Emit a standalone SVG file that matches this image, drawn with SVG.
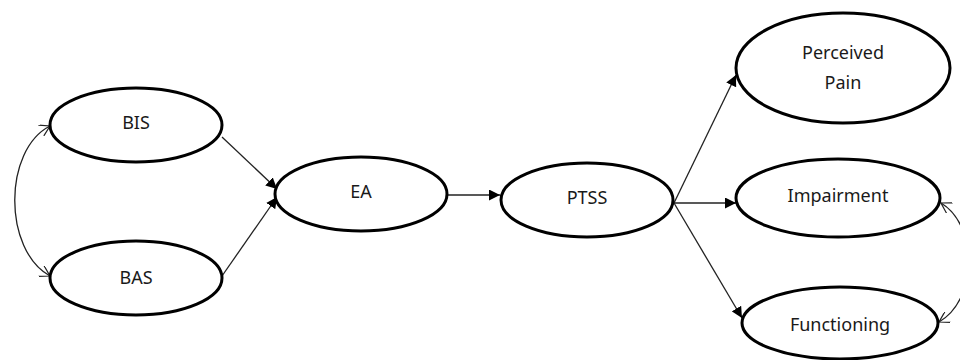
<svg xmlns="http://www.w3.org/2000/svg" width="960" height="360" viewBox="0 0 960 360">
<defs>
<style>
.node ellipse{fill:#fff;stroke:#000;stroke-width:3}
.node text{font-family:"Noto Sans","Open Sans",sans-serif;font-size:18px;fill:#1a1a1a;text-anchor:middle}
.conn line,.conn path{stroke:#222;stroke-width:1.3;fill:none}
</style>
<marker id="fa" viewBox="0 0 10 10" refX="10" refY="5" markerWidth="11" markerHeight="11" markerUnits="userSpaceOnUse" orient="auto">
<path d="M0,0 L10,5 L0,10 z" fill="#000"/>
</marker>
<marker id="oa" viewBox="0 0 12 12" refX="11" refY="6" markerWidth="12" markerHeight="12" markerUnits="userSpaceOnUse" orient="auto-start-reverse">
<path d="M1,0 L11,6 L1,12" fill="none" stroke="#222" stroke-width="1.2"/>
</marker>
</defs>
<rect width="960" height="360" fill="#fff"/>
<g class="conn">
<line x1="222" y1="137" x2="277" y2="189" marker-end="url(#fa)"/>
<line x1="222" y1="276" x2="277" y2="197" marker-end="url(#fa)"/>
<line x1="447" y1="195" x2="500" y2="195" marker-end="url(#fa)"/>
<line x1="674" y1="203" x2="736" y2="75" marker-end="url(#fa)"/>
<line x1="674" y1="203" x2="736" y2="203" marker-end="url(#fa)"/>
<line x1="674" y1="203" x2="742" y2="318" marker-end="url(#fa)"/>
<path d="M50,126 C3,150 3,250 50,276" marker-start="url(#oa)" marker-end="url(#oa)"/>
<path d="M941,203 C978,225 978,300 939,322" marker-start="url(#oa)" marker-end="url(#oa)"/>
</g>
<g id="bis" class="node"><ellipse cx="136" cy="125" rx="86" ry="37"/><text x="136" y="129">BIS</text></g>
<g id="bas" class="node"><ellipse cx="136" cy="278" rx="86" ry="37"/><text x="136" y="284">BAS</text></g>
<g id="ea" class="node"><ellipse cx="361" cy="194" rx="86" ry="37"/><text x="361" y="198">EA</text></g>
<g id="ptss" class="node"><ellipse cx="587" cy="200" rx="86" ry="37"/><text x="587" y="204">PTSS</text></g>
<g id="pain" class="node"><ellipse cx="843" cy="68" rx="107" ry="55"/><text x="843" y="59">Perceived</text><text x="843" y="89">Pain</text></g>
<g id="impairment" class="node"><ellipse cx="838" cy="198" rx="102" ry="39"/><text x="838" y="202">Impairment</text></g>
<g id="functioning" class="node"><ellipse cx="840" cy="323" rx="98" ry="36"/><text x="840" y="331">Functioning</text></g>
</svg>
